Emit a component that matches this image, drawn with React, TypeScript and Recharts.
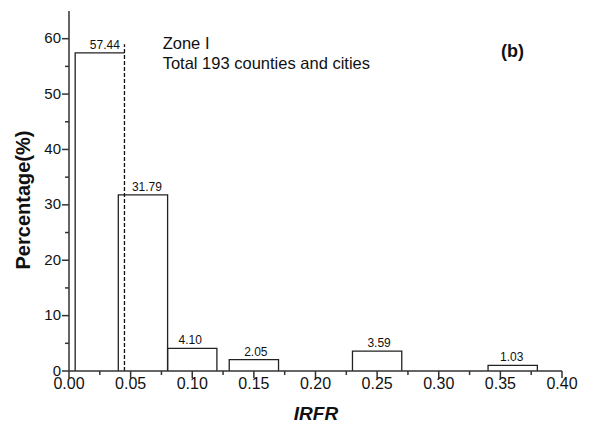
import React from 'react';
import { ComposedChart, XAxis, YAxis, ReferenceArea, ReferenceLine } from 'recharts';

// IRFR histogram bins (left edge, right edge) and the share of counties in each
const binStart = [0.005, 0.04, 0.08, 0.13, 0.23, 0.34];
const binEnd = [0.045, 0.08, 0.12, 0.17, 0.27, 0.38];
const percentages = [57.44, 31.79, 4.1, 2.05, 3.59, 1.03];
const percentLabels = ['57.44', '31.79', '4.10', '2.05', '3.59', '1.03'];

// dashed marker on the first bin's right edge
const markerX = 0.045;
const markerTop = 59;

const xTicks = [0, 0.025, 0.05, 0.075, 0.1, 0.125, 0.15, 0.175, 0.2, 0.225, 0.25, 0.275, 0.3, 0.325, 0.35, 0.375, 0.4];
const xMajor = [0, 0.05, 0.1, 0.15, 0.2, 0.25, 0.3, 0.35, 0.4];
const yTicks = [0, 5, 10, 15, 20, 25, 30, 35, 40, 45, 50, 55, 60];
const yMajor = [0, 10, 20, 30, 40, 50, 60];

const FONT = '"Liberation Sans", Arial, Helvetica, sans-serif';
const INK = '#111';
const AXIS = '#333';
const labelShift = [5, 4, -2, 2, 2, -1];

const isXMajor = (v: number) => xMajor.some((m) => Math.abs(m - v) < 1e-9);
const isYMajor = (v: number) => yMajor.includes(v);

function XTick(props: any) {
  const { x, y, payload } = props;
  const major = isXMajor(payload.value);
  return (
    <g>
      <line x1={x} x2={x} y1={y} y2={y + (major ? 7 : 4)} stroke={AXIS} strokeWidth={1.5} />
      {major && (
        <text x={x} y={y + 18} textAnchor="middle" fontSize={16} fontFamily={FONT} fill={INK}>
          {Number(payload.value).toFixed(2)}
        </text>
      )}
    </g>
  );
}

function YTick(props: any) {
  const { x, y, payload } = props;
  const major = isYMajor(payload.value);
  return (
    <g>
      <line x1={x} x2={x - (major ? 7 : 4)} y1={y} y2={y} stroke={AXIS} strokeWidth={1.5} />
      {major && (
        <text x={x - 8} y={y + 4.5} textAnchor="end" fontSize={15} fontFamily={FONT} fill={INK}>
          {payload.value}
        </text>
      )}
    </g>
  );
}

// open-bottom box; the first bin leaves its right side to the dashed marker
const makeBinShape = (skipRight: boolean) => (p: any) => {
  const { x, y, width, height } = p;
  const d = skipRight
    ? `M${x},${y + height} L${x},${y} L${x + width},${y}`
    : `M${x},${y + height} L${x},${y} L${x + width},${y} L${x + width},${y + height}`;
  return <path d={d} fill="none" stroke="#222" strokeWidth={1.3} />;
};

export default function App() {
  return (
    <div style={{ position: 'absolute', left: 0, top: 0, background: '#fff' }}>
      <ComposedChart width={597} height={428} margin={{ top: 11, right: 35, left: 0, bottom: 0 }}>
        <XAxis
          type="number"
          dataKey="x"
          domain={[0, 0.4]}
          ticks={xTicks}
          interval={0}
          height={57}
          tickSize={0}
          tickMargin={0}
          tickLine={false}
          tick={<XTick />}
          axisLine={{ stroke: AXIS, strokeWidth: 1.5 }}
          allowDataOverflow
        />
        <YAxis
          type="number"
          domain={[0, 65]}
          ticks={yTicks}
          interval={0}
          width={69}
          tickSize={0}
          tickMargin={0}
          tickLine={false}
          tick={<YTick />}
          axisLine={{ stroke: AXIS, strokeWidth: 1.5 }}
          allowDataOverflow
        />
        {percentages.map((v, i) => (
          <ReferenceArea
            key={i}
            x1={binStart[i]}
            x2={binEnd[i]}
            y1={0}
            y2={v}
            ifOverflow="visible"
            shape={makeBinShape(i === 0)}
            label={{
              value: percentLabels[i],
              position: 'top',
              offset: 4,
              dx: labelShift[i],
              fontSize: 12,
              fontFamily: FONT,
              fill: INK,
            }}
          />
        ))}
        <ReferenceLine
          segment={[
            { x: markerX, y: 0 },
            { x: markerX, y: markerTop },
          ]}
          stroke="#111"
          strokeWidth={1.3}
          strokeDasharray="4 2"
          ifOverflow="visible"
        />
        <text x={162.7} y={49} fontSize={16.5} fontFamily={FONT} fill={INK}>
          Zone I
        </text>
        <text x={162.7} y={69} fontSize={16.5} fontFamily={FONT} fill={INK}>
          Total 193 counties and cities
        </text>
        <text x={501} y={57} fontSize={18} fontWeight="bold" fontFamily={FONT} fill={INK}>
          (b)
        </text>
        <text
          x={30}
          y={200}
          transform="rotate(-90, 30, 200)"
          textAnchor="middle"
          fontSize={20}
          fontWeight="bold"
          fontFamily={FONT}
          fill={INK}
        >
          Percentage(%)
        </text>
        <text
          x={316}
          y={420}
          textAnchor="middle"
          fontSize={19}
          fontWeight="bold"
          fontStyle="italic"
          fontFamily={FONT}
          fill={INK}
        >
          IRFR
        </text>
      </ComposedChart>
    </div>
  );
}
